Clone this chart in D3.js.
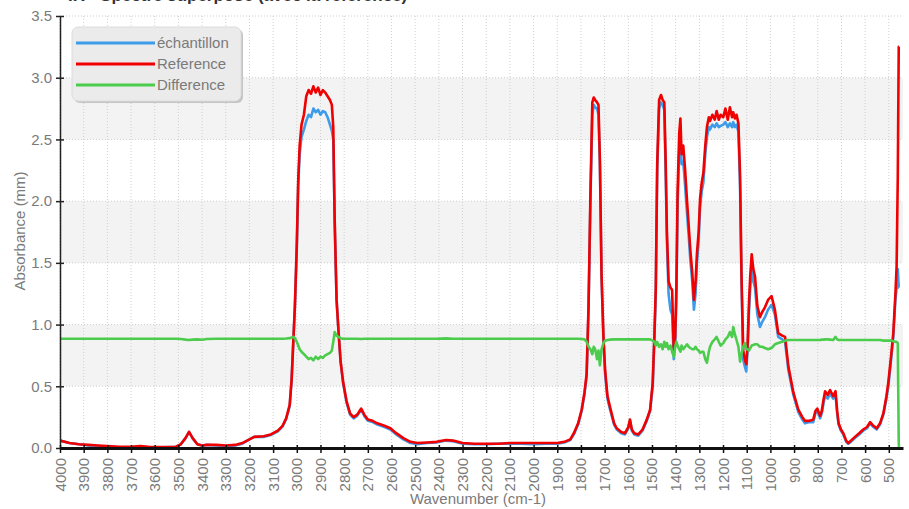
<!DOCTYPE html>
<html>
  <head>
    <meta charset="utf-8">
    <title>Absorbance spectrum</title>
    <script src="https://cdn.jsdelivr.net/npm/d3@7"></script>
    <style>
      body { margin: 0; background: #fff; }
      text { font-family: "Liberation Sans", Arial, sans-serif; }
    </style>
  </head>
  <body>
    <div id="chart"></div>
    <script>
      // wavenumbers (cm-1)
      var wavenumbers = [4000,3960,3920,3880,3840,3800,3750,3700,3660,3620,3560,3510,3490,3470,3455,3440,3420,3400,3380,3340,
        3300,3260,3230,3200,3180,3140,3110,3080,3060,3045,3030,3022,3015,3008,3000,2994,2988,2980,2970,2960,
        2950,2940,2930,2920,2910,2900,2890,2880,2870,2860,2852,2846,2840,2832,2824,2815,2804,2790,2775,2760,
        2745,2728,2715,2700,2680,2660,2630,2605,2580,2550,2520,2490,2450,2410,2370,2340,2300,2250,2200,2150,
        2100,2050,2000,1950,1900,1870,1845,1830,1812,1797,1785,1776,1768,1760,1752,1746,1740,1732,1726,1720,
        1713,1705,1698,1688,1677,1660,1649,1630,1614,1600,1593,1585,1575,1558,1540,1522,1508,1497,1490,1484,
        1478,1470,1462,1455,1448,1442,1437,1430,1422,1415,1408,1402,1397,1392,1385,1380,1375,1368,1360,1352,
        1345,1338,1330,1323,1316,1310,1303,1297,1290,1283,1275,1268,1260,1255,1245,1235,1227,1218,1210,1199,
        1190,1180,1171,1162,1157,1150,1143,1135,1128,1122,1115,1108,1102,1096,1090,1085,1079,1072,1065,1055,
        1044,1035,1023,1010,995,981,967,950,938,924,903,882,865,854,835,819,810,802,790,783,
        775,769,758,748,735,725,718,712,702,692,680,671,660,643,625,608,592,579,565,551,
        537,523,510,502,490,481,472,467,462,458,457];

      var reference = [0.06,0.04,0.03,0.025,0.02,0.015,0.01,0.01,0.015,0.008,0.008,0.01,0.03,0.08,0.13,0.08,0.03,0.02,0.025,0.025,
        0.02,0.025,0.04,0.07,0.09,0.095,0.11,0.14,0.18,0.24,0.35,0.55,0.85,1.15,1.65,2.17,2.45,2.62,2.7,2.85,
        2.9,2.87,2.93,2.88,2.92,2.86,2.9,2.88,2.85,2.82,2.78,2.6,1.85,1.2,0.95,0.7,0.53,0.38,0.28,0.25,
        0.27,0.32,0.27,0.23,0.22,0.2,0.18,0.16,0.12,0.08,0.05,0.04,0.045,0.05,0.065,0.06,0.04,0.035,0.035,0.035,
        0.04,0.04,0.04,0.04,0.04,0.05,0.07,0.12,0.2,0.31,0.45,0.6,1.15,2.05,2.8,2.84,2.82,2.8,2.78,2.33,
        1.4,0.9,0.63,0.42,0.33,0.2,0.16,0.13,0.12,0.17,0.23,0.15,0.12,0.11,0.15,0.23,0.31,0.53,0.9,1.3,
        2.3,2.82,2.86,2.82,2.8,2.3,1.75,1.35,1.3,1.28,0.78,0.9,1.3,2.07,2.55,2.67,2.38,2.45,2.25,2.0,
        1.8,1.6,1.42,1.2,1.35,1.58,1.75,2.02,2.15,2.23,2.45,2.6,2.68,2.65,2.7,2.66,2.73,2.66,2.7,2.68,
        2.75,2.66,2.76,2.68,2.72,2.67,2.7,2.63,2.2,1.4,0.79,0.72,0.68,0.85,1.2,1.4,1.57,1.45,1.39,1.15,
        1.06,1.1,1.14,1.2,1.23,1.12,0.93,0.91,0.9,0.66,0.45,0.31,0.25,0.22,0.22,0.23,0.3,0.32,0.26,0.3,
        0.4,0.46,0.43,0.47,0.42,0.46,0.3,0.2,0.15,0.12,0.06,0.04,0.06,0.09,0.12,0.15,0.17,0.21,0.18,0.16,
        0.2,0.28,0.42,0.53,0.75,0.93,1.25,1.47,2.2,3.25,3.25];

      var sample = [0.06,0.04,0.03,0.02,0.015,0.01,0.005,0.005,0.01,0.005,0.005,0.01,0.03,0.08,0.13,0.08,0.03,0.02,0.025,0.02,
        0.015,0.02,0.035,0.07,0.09,0.09,0.105,0.135,0.175,0.235,0.34,0.55,0.85,1.15,1.62,2.12,2.38,2.52,2.58,2.65,
        2.7,2.68,2.75,2.72,2.74,2.7,2.73,2.72,2.68,2.62,2.57,2.5,1.82,1.2,0.95,0.7,0.52,0.37,0.27,0.24,
        0.26,0.31,0.26,0.22,0.21,0.19,0.17,0.15,0.11,0.07,0.04,0.03,0.04,0.045,0.06,0.055,0.035,0.03,0.03,0.035,
        0.035,0.035,0.03,0.035,0.035,0.045,0.065,0.11,0.19,0.3,0.44,0.58,1.12,2.0,2.7,2.78,2.76,2.75,2.7,2.3,
        1.38,0.88,0.6,0.4,0.31,0.19,0.15,0.12,0.11,0.16,0.22,0.14,0.11,0.1,0.14,0.22,0.3,0.5,0.88,1.25,
        2.25,2.75,2.8,2.78,2.74,2.2,1.68,1.25,1.12,1.08,0.72,0.85,1.22,1.95,2.42,2.5,2.3,2.32,2.12,1.9,
        1.72,1.52,1.35,1.12,1.25,1.5,1.68,1.95,2.08,2.15,2.38,2.52,2.6,2.58,2.62,2.6,2.63,2.6,2.61,2.62,
        2.64,2.6,2.63,2.6,2.64,2.6,2.62,2.56,2.1,1.35,0.72,0.66,0.62,0.8,1.12,1.3,1.45,1.35,1.3,1.08,
        0.98,1.02,1.06,1.12,1.16,1.08,0.9,0.88,0.86,0.63,0.43,0.29,0.23,0.2,0.21,0.21,0.28,0.3,0.24,0.28,
        0.37,0.42,0.4,0.44,0.4,0.43,0.28,0.19,0.14,0.11,0.05,0.035,0.05,0.08,0.11,0.14,0.16,0.2,0.17,0.15,
        0.19,0.27,0.4,0.5,0.72,0.9,1.2,1.3,1.45,1.3,1.3];

      var difference = [0.885,0.885,0.885,0.885,0.885,0.885,0.885,0.885,0.885,0.885,0.885,0.885,0.883,0.878,0.875,0.878,0.88,0.877,0.883,0.885,
        0.885,0.885,0.885,0.885,0.885,0.885,0.885,0.885,0.885,0.887,0.89,0.895,0.9,0.89,0.86,0.83,0.8,0.78,0.76,0.74,
        0.72,0.73,0.71,0.74,0.72,0.74,0.73,0.75,0.76,0.77,0.79,0.86,0.94,0.91,0.9,0.89,0.885,0.885,0.885,0.885,
        0.885,0.883,0.885,0.885,0.885,0.885,0.885,0.885,0.885,0.885,0.885,0.885,0.885,0.885,0.888,0.885,0.885,0.885,0.885,0.885,
        0.885,0.885,0.885,0.885,0.885,0.885,0.885,0.885,0.885,0.883,0.88,0.86,0.82,0.8,0.76,0.82,0.8,0.72,0.79,0.67,
        0.8,0.85,0.87,0.875,0.878,0.88,0.88,0.88,0.88,0.88,0.88,0.88,0.88,0.88,0.88,0.88,0.88,0.87,0.86,0.83,
        0.86,0.82,0.84,0.8,0.86,0.82,0.85,0.8,0.83,0.78,0.74,0.82,0.86,0.83,0.8,0.78,0.83,0.8,0.82,0.84,
        0.82,0.81,0.8,0.8,0.82,0.8,0.79,0.77,0.78,0.78,0.72,0.69,0.78,0.82,0.86,0.88,0.9,0.86,0.83,0.85,
        0.88,0.9,0.94,0.9,0.98,0.92,0.875,0.82,0.7,0.76,0.82,0.85,0.8,0.8,0.79,0.81,0.83,0.835,0.84,0.84,
        0.82,0.82,0.81,0.8,0.81,0.84,0.85,0.86,0.87,0.875,0.875,0.875,0.875,0.875,0.875,0.875,0.875,0.875,0.875,0.878,
        0.878,0.88,0.88,0.878,0.875,0.9,0.88,0.875,0.875,0.875,0.875,0.875,0.875,0.875,0.875,0.875,0.875,0.875,0.875,0.875,
        0.875,0.87,0.87,0.87,0.87,0.865,0.86,0.86,0.85,0.05,0];

      var xTicks = d3.range(4000, 499, -100);
      var yTicks = [0, 0.5, 1.0, 1.5, 2.0, 2.5, 3.0, 3.5];
      var shadedBands = [[2.5, 3.0], [1.5, 2.0], [0.5, 1.0]];

      var seriesNames = ["échantillon", "Reference", "Difference"];
      var seriesColors = ["#3d9be9", "#f00000", "#4ccc4c"];
      var seriesValues = [sample, reference, difference];

      var width = 909, height = 509;
      var plotLeft = 60, plotRight = 903, plotTop = 16, plotBottom = 448;

      var svg = d3.select("#chart").append("svg")
        .attr("width", width)
        .attr("height", height);

      var x = d3.scaleLinear().domain([4000, 440]).range([plotLeft, plotRight]);
      var y = d3.scaleLinear().domain([0, 3.5]).range([plotBottom, plotTop]);

      // title, mostly out of view at the top
      svg.append("text")
        .attr("x", 68).attr("y", 1)
        .attr("font-size", 17).attr("font-weight", "bold").attr("fill", "#333")
        .text("IR - Spectre superposé (avec la référence)");

      // shaded bands
      svg.selectAll(".band").data(shadedBands).enter().append("rect")
        .attr("x", plotLeft).attr("width", plotRight - plotLeft)
        .attr("y", d => y(d[1]))
        .attr("height", d => y(d[0]) - y(d[1]))
        .attr("fill", "#f3f3f3");

      // grid
      svg.selectAll(".vgrid").data(xTicks).enter().append("line")
        .attr("x1", d => x(d)).attr("x2", d => x(d))
        .attr("y1", plotTop).attr("y2", plotBottom)
        .attr("stroke", "#cfcfcf").attr("stroke-dasharray", "1,2");
      svg.selectAll(".hgrid").data(yTicks.slice(1)).enter().append("line")
        .attr("x1", plotLeft).attr("x2", plotRight)
        .attr("y1", d => y(d)).attr("y2", d => y(d))
        .attr("stroke", "#cfcfcf").attr("stroke-dasharray", "1,2");

      // series
      svg.append("clipPath").attr("id", "clip").append("rect")
        .attr("x", plotLeft).attr("y", plotTop - 2)
        .attr("width", plotRight - plotLeft).attr("height", plotBottom - plotTop + 2);

      var line = d3.line()
        .x((d, i) => x(wavenumbers[i]))
        .y(d => y(d));

      var plot = svg.append("g").attr("clip-path", "url(#clip)");
      seriesValues.forEach(function(vals, k) {
        plot.append("path")
          .datum(vals)
          .attr("d", line)
          .attr("fill", "none")
          .attr("stroke", seriesColors[k])
          .attr("stroke-width", 2.6)
          .attr("stroke-linejoin", "round");
      });

      // y axis
      var yAxis = svg.append("g").attr("transform", "translate(" + plotLeft + ",0)")
        .call(d3.axisLeft(y).tickValues(yTicks).tickFormat(d3.format(".1f")).tickSizeInner(4).tickSizeOuter(0).tickPadding(4));
      yAxis.select(".domain").attr("stroke", "#222").attr("stroke-width", 1.5);
      yAxis.selectAll(".tick line").attr("x2", 4).attr("x1", -4).attr("stroke", "#222").attr("stroke-width", 1.5);
      yAxis.selectAll(".tick text").attr("font-size", 15).attr("fill", "#7a7a7a")
        .attr("font-family", "'Liberation Sans', Arial, sans-serif");

      // x axis
      var xAxis = svg.append("g").attr("transform", "translate(0," + plotBottom + ")")
        .call(d3.axisBottom(x).tickValues(xTicks).tickSizeInner(5).tickSizeOuter(0).tickFormat(d3.format("d")));
      xAxis.select(".domain").attr("stroke", "#111").attr("stroke-width", 3);
      xAxis.selectAll(".tick line").attr("y1", -3).attr("stroke", "#111").attr("stroke-width", 1.5);
      xAxis.selectAll(".tick text")
        .attr("font-size", 15).attr("fill", "#7a7a7a")
        .attr("font-family", "'Liberation Sans', Arial, sans-serif")
        .attr("text-anchor", "end")
        .attr("dy", null)
        .attr("y", 0)
        .attr("transform", "translate(5,10) rotate(-90)");

      // axis titles
      svg.append("text")
        .attr("transform", "translate(25,231) rotate(-90)")
        .attr("text-anchor", "middle").attr("font-size", 15).attr("fill", "#7a7a7a")
        .text("Absorbance (mm)");
      svg.append("text")
        .attr("x", 478).attr("y", 504)
        .attr("text-anchor", "middle").attr("font-size", 15).attr("fill", "#7a7a7a")
        .text("Wavenumber (cm-1)");

      // legend
      var legend = svg.append("g");
      legend.append("rect")
        .attr("x", 74).attr("y", 29).attr("width", 169).attr("height", 74)
        .attr("rx", 6).attr("fill", "#c4c4c4");
      legend.append("rect")
        .attr("x", 72).attr("y", 27).attr("width", 169).attr("height", 74)
        .attr("rx", 6).attr("fill", "#ebebeb").attr("stroke", "#dcdcdc");
      seriesNames.forEach(function(name, k) {
        var ly = 43 + k * 21;
        legend.append("line")
          .attr("x1", 76).attr("x2", 155).attr("y1", ly).attr("y2", ly)
          .attr("stroke", seriesColors[k]).attr("stroke-width", 3);
        legend.append("text")
          .attr("x", 157).attr("y", ly + 5)
          .attr("font-size", 15).attr("fill", "#7a7a7a")
          .text(name);
      });
    </script>
  </body>
</html>
